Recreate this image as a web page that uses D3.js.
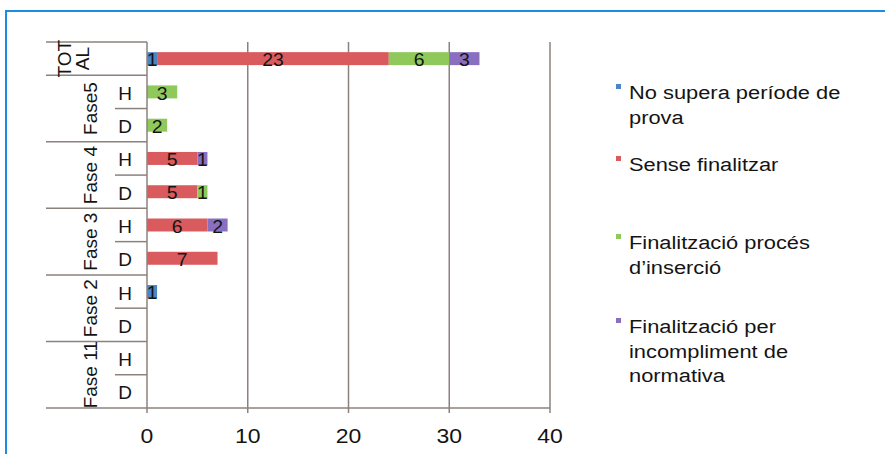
<!DOCTYPE html>
<html>
<head>
<meta charset="utf-8">
<script src="https://cdn.jsdelivr.net/npm/d3@7"></script>
<style>
  body { margin: 0; background: #fff; }
  svg { display: block; font-family: "Liberation Sans", Arial, sans-serif; }
</style>
</head>
<body>
<script>
// dades
const rows = ["TOTAL", "Fase5|H", "Fase5|D", "Fase 4|H", "Fase 4|D", "Fase 3|H", "Fase 3|D",
  "Fase 2|H", "Fase 2|D", "Fase 11|H", "Fase 11|D"];
const groups = ["Fase5", "Fase 4", "Fase 3", "Fase 2", "Fase 11"];
const seriesNames = ["No supera període de prova", "Sense finalitzar",
  "Finalització procés d'inserció", "Finalització per incompliment de normativa"];
const noSupera = [1, 0, 0, 0, 0, 0, 0, 1, 0, 0, 0];
const senseFinalitzar = [23, 0, 0, 5, 5, 6, 7, 0, 0, 0, 0];
const finalInsercio = [6, 3, 2, 0, 1, 0, 0, 0, 0, 0, 0];
const finalIncompliment = [3, 0, 0, 1, 0, 2, 0, 0, 0, 0, 0];
const xTicks = [0, 10, 20, 30, 40];

// llegenda (línies de text ja partides)
const legendLines = [
  ["No supera període de", "prova"],
  ["Sense finalitzar"],
  ["Finalització procés", "d\u2019inserció"],
  ["Finalització per", "incompliment de", "normativa"]
];
const colors = ["#4a85c8", "#d95b5e", "#8fc95c", "#8a6fc0"];
const gridColor = "#8c827d";
const ink = "#141414";

const W = 885, H = 454;
const svg = d3.select("body").append("svg")
  .attr("width", W).attr("height", H);

// marc blau
svg.append("rect")
  .attr("x", 6).attr("y", 11).attr("width", 900).attr("height", 500)
  .attr("fill", "none").attr("stroke", "#1b8ee2").attr("stroke-width", 2);

const x = d3.scaleLinear().domain([0, 40]).range([147, 550]);
const y = d3.scaleBand().domain(rows).range([42, 408])
  .paddingInner(0.61).paddingOuter(0.305);
const step = y.step();

// taula per a la pila
const table = rows.map((r, i) => ({
  row: r, s0: noSupera[i], s1: senseFinalitzar[i], s2: finalInsercio[i], s3: finalIncompliment[i]
}));
const stacked = d3.stack().keys(["s0", "s1", "s2", "s3"])(table);

// línies de la graella
svg.append("g").selectAll("line")
  .data(xTicks.slice(1))
  .enter().append("line")
  .attr("x1", d => x(d)).attr("x2", d => x(d))
  .attr("y1", 42).attr("y2", 413)
  .attr("stroke", gridColor).attr("stroke-width", 1.5);

// barres
const layer = svg.selectAll("g.layer")
  .data(stacked)
  .enter().append("g")
  .attr("fill", (d, i) => colors[i]);

layer.selectAll("rect")
  .data(d => d.filter(p => p[1] > p[0]))
  .enter().append("rect")
  .attr("x", d => x(d[0]))
  .attr("width", d => x(d[1]) - x(d[0]))
  .attr("y", d => y(d.data.row))
  .attr("height", y.bandwidth());

layer.selectAll("text")
  .data(d => d.filter(p => p[1] > p[0]))
  .enter().append("text")
  .attr("transform", d => `translate(${(x(d[0]) + x(d[1])) / 2},${y(d.data.row) + y.bandwidth() / 2 + 1.5}) scale(1.08,1)`)
  .attr("text-anchor", "middle")
  .attr("dominant-baseline", "central")
  .attr("fill", ink)
  .style("font-size", "18px")
  .text(d => d[1] - d[0]);

// eixos
svg.append("line")
  .attr("x1", x(0)).attr("x2", x(0)).attr("y1", 42).attr("y2", 413)
  .attr("stroke", gridColor).attr("stroke-width", 1.5);
svg.append("line")
  .attr("x1", 46).attr("x2", x(40)).attr("y1", 408).attr("y2", 408)
  .attr("stroke", gridColor).attr("stroke-width", 1.5);

svg.selectAll("text.xt")
  .data(xTicks)
  .enter().append("text")
  .attr("class", "xt")
  .attr("transform", d => `translate(${x(d)},443) scale(1.15,1)`)
  .attr("text-anchor", "middle")
  .attr("fill", ink)
  .style("font-size", "20px")
  .text(d => d);

// eix de categories en dos nivells
const lab = svg.append("g").attr("fill", ink);
const groupTop = g => y(g + "|H") - (step - y.bandwidth()) / 2;

// separadors de grup
const sepY = [42].concat(groups.map(groupTop));
lab.selectAll("line.gs")
  .data(sepY)
  .enter().append("line")
  .attr("x1", 46).attr("x2", x(0))
  .attr("y1", d => d).attr("y2", d => d)
  .attr("stroke", gridColor).attr("stroke-width", 1.5);

// separadors H / D
lab.selectAll("line.hs")
  .data(groups)
  .enter().append("line")
  .attr("x1", 115).attr("x2", x(0))
  .attr("y1", g => groupTop(g) + step).attr("y2", g => groupTop(g) + step)
  .attr("stroke", gridColor).attr("stroke-width", 1.5);

// H / D
lab.selectAll("text.sub")
  .data(rows.filter(r => r.includes("|")))
  .enter().append("text")
  .attr("x", 125)
  .attr("y", r => y(r) + y.bandwidth() / 2 + 1.5)
  .attr("text-anchor", "middle")
  .attr("dominant-baseline", "central")
  .style("font-size", "19px")
  .text(r => r.split("|")[1]);

// noms de fase girats
lab.selectAll("text.grp")
  .data(groups)
  .enter().append("text")
  .attr("transform", g => `translate(90,${groupTop(g) + step}) rotate(-90)`)
  .attr("text-anchor", "middle")
  .attr("dominant-baseline", "central")
  .style("font-size", "19px")
  .text(g => g);

// TOT AL en dues línies
const cy = y("TOTAL") + y.bandwidth() / 2;
lab.selectAll("text.tot")
  .data(["TOT", "AL"])
  .enter().append("text")
  .attr("transform", (d, i) => `translate(${64 + i * 18},${cy}) rotate(-90)`)
  .attr("text-anchor", "middle")
  .attr("dominant-baseline", "central")
  .style("font-size", "19px")
  .text(d => d);

// llegenda
const legendBase = [99, 171, 249, 333];
const leg = svg.append("g");
legendLines.forEach((lines, i) => {
  leg.append("rect")
    .attr("x", 616).attr("y", legendBase[i] - 15)
    .attr("width", 5).attr("height", 5)
    .attr("fill", colors[i]);
  lines.forEach((t, j) => {
    leg.append("text")
      .attr("transform", `translate(629,${legendBase[i] + j * 24.5}) scale(1.15,1)`)
      .attr("fill", ink)
      .style("font-size", "19px")
      .text(t);
  });
});
</script>
</body>
</html>
